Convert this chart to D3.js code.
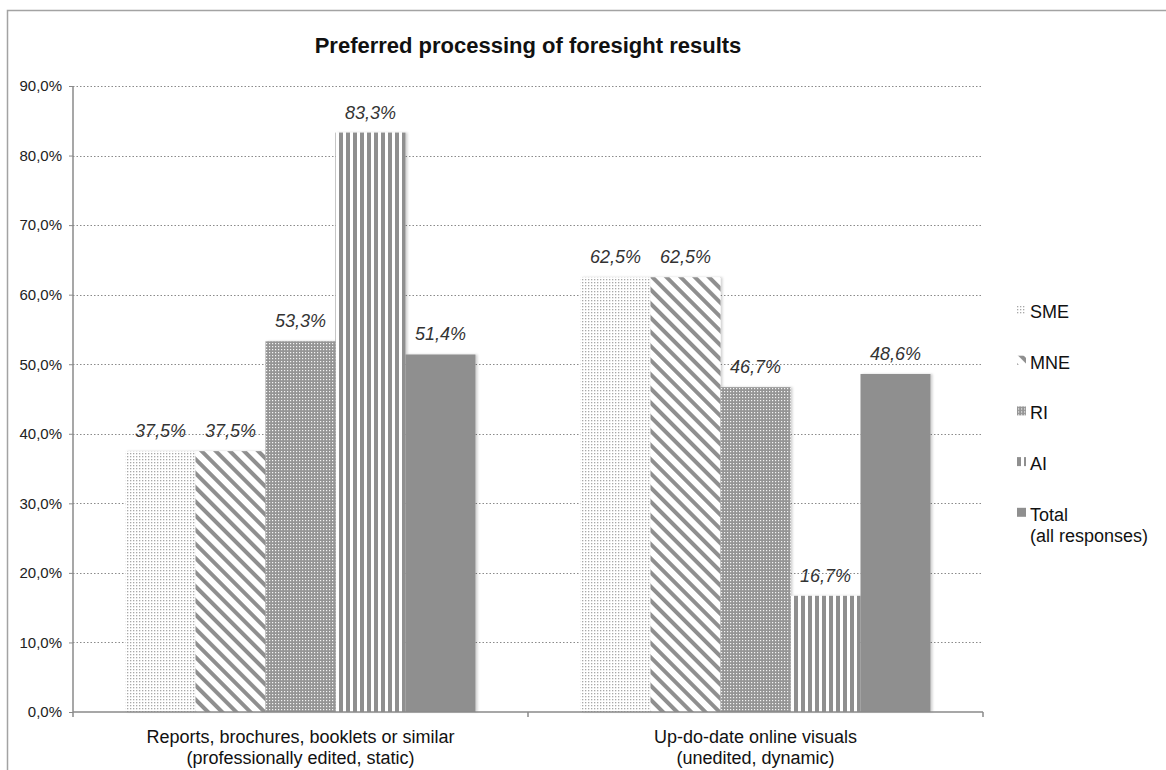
<!DOCTYPE html>
<html>
<head>
<meta charset="utf-8">
<script src="https://cdn.jsdelivr.net/npm/d3@7/dist/d3.min.js"></script>
<style>
  html, body { margin: 0; padding: 0; background: #fff; }
  svg { display: block; font-family: "Liberation Sans", Arial, Helvetica, sans-serif; }
</style>
</head>
<body>
<svg id="chart" width="1166" height="770"></svg>
<script>
// Survey shares per respondent group (percent)
const categories = [
  ["Reports, brochures, booklets or similar", "(professionally edited, static)"],
  ["Up-do-date online visuals", "(unedited, dynamic)"]
];
const seriesNames = ["SME", "MNE", "RI", "AI", "Total"];
const legendLabels = [["SME"], ["MNE"], ["RI"], ["AI"], ["Total", "(all responses)"]];
const valuesSME   = [37.5, 62.5];
const valuesMNE   = [37.5, 62.5];
const valuesRI    = [53.3, 46.7];
const valuesAI    = [83.3, 16.7];
const valuesTotal = [51.4, 48.6];
const yTicks = [0, 10, 20, 30, 40, 50, 60, 70, 80, 90];
const title = "Preferred processing of foresight results";

const seriesValues = [valuesSME, valuesMNE, valuesRI, valuesAI, valuesTotal];
const fmt = v => v.toFixed(1).replace(".", ",") + "%";

const svg = d3.select("#chart");
const defs = svg.append("defs");
const grey = "#8f8f8f";

// --- fill patterns ---
// SME: fine light dots
const pSME = defs.append("pattern").attr("id", "p-SME")
  .attr("patternUnits", "userSpaceOnUse").attr("width", 3).attr("height", 3);
pSME.append("rect").attr("width", 3).attr("height", 3).attr("fill", "#fff");
pSME.append("rect").attr("x", 0).attr("y", 0).attr("width", 1.3).attr("height", 1.3).attr("fill", "#a8a8a8");

// MNE: diagonal stripes
const pMNE = defs.append("pattern").attr("id", "p-MNE")
  .attr("patternUnits", "userSpaceOnUse").attr("width", 10).attr("height", 10)
  .attr("patternTransform", "rotate(-45)");
pMNE.append("rect").attr("width", 10).attr("height", 10).attr("fill", "#fff");
pMNE.append("rect").attr("x", 0).attr("width", 4).attr("height", 10).attr("fill", grey);

// RI: grey with small white dots
const pRI = defs.append("pattern").attr("id", "p-RI")
  .attr("patternUnits", "userSpaceOnUse").attr("width", 3).attr("height", 3);
pRI.append("rect").attr("width", 3).attr("height", 3).attr("fill", "#959595");
pRI.append("rect").attr("x", 1).attr("y", 1).attr("width", 1.2).attr("height", 1.2).attr("fill", "#f4f4f4");

// AI: vertical stripes
const pAI = defs.append("pattern").attr("id", "p-AI")
  .attr("patternUnits", "userSpaceOnUse").attr("width", 7).attr("height", 10);
pAI.append("rect").attr("width", 7).attr("height", 10).attr("fill", "#fff");
pAI.append("rect").attr("x", 0).attr("width", 4).attr("height", 10).attr("fill", grey);

const fills = { SME: "url(#p-SME)", MNE: "url(#p-MNE)", RI: "url(#p-RI)", AI: "url(#p-AI)", Total: grey };

// soft shadow to the right of each bar
const shadow = defs.append("filter").attr("id", "barShadow")
  .attr("x", "-10%").attr("y", "-10%").attr("width", "130%").attr("height", "120%");
shadow.append("feDropShadow").attr("dx", 2).attr("dy", 0).attr("stdDeviation", 1)
  .attr("flood-color", "#000").attr("flood-opacity", 0.18);

// --- outer frame ---
svg.append("rect").attr("x", 7.5).attr("y", 10.5).attr("width", 1180).attr("height", 800)
  .attr("fill", "none").attr("stroke", "#a3a3a3").attr("stroke-width", 1.5);

// --- scales ---
const plotLeft = 73, plotRight = 983, plotTop = 86, plotBottom = 712;
const catKeys = categories.map((c, i) => i);
const x0 = d3.scaleBand().domain(catKeys).range([plotLeft, plotRight]).padding(0);
const groupPad = x0.bandwidth() * 0.1154;
const x1 = d3.scaleBand().domain(seriesNames).range([groupPad, x0.bandwidth() - groupPad]).padding(0);
const y = d3.scaleLinear().domain([0, 90]).range([plotBottom, plotTop]);

// --- title ---
svg.append("text").attr("x", (plotLeft + plotRight) / 2).attr("y", 53)
  .attr("text-anchor", "middle").attr("font-size", 22).attr("font-weight", "bold")
  .attr("fill", "#111").text(title);

// --- gridlines ---
svg.append("g").selectAll("line").data(yTicks.filter(t => t > 0)).join("line")
  .attr("x1", plotLeft).attr("x2", plotRight)
  .attr("y1", d => Math.round(y(d)) + 0.5).attr("y2", d => Math.round(y(d)) + 0.5)
  .attr("stroke", "#8a8a8a").attr("stroke-width", 1).attr("stroke-dasharray", "1.5,2");

// --- bars ---
const groups = svg.append("g").selectAll("g").data(catKeys).join("g")
  .attr("transform", d => `translate(${x0(d)},0)`);

groups.selectAll("rect").data(ci => seriesNames.map((s, si) => ({ s, v: seriesValues[si][ci] })))
  .join("rect")
  .attr("x", d => x1(d.s)).attr("width", x1.bandwidth())
  .attr("y", d => y(d.v)).attr("height", d => plotBottom - y(d.v))
  .attr("fill", d => fills[d.s]).attr("filter", "url(#barShadow)");

groups.selectAll("text").data(ci => seriesNames.map((s, si) => ({ s, v: seriesValues[si][ci] })))
  .join("text")
  .attr("x", d => x1(d.s) + x1.bandwidth() / 2).attr("y", d => y(d.v) - 14)
  .attr("text-anchor", "middle").attr("font-size", 18).attr("font-style", "italic")
  .attr("fill", "#333").text(d => fmt(d.v));

// --- axes ---
const yAxis = svg.append("g").attr("transform", `translate(${plotLeft},0)`)
  .call(d3.axisLeft(y).tickValues(yTicks).tickSize(4).tickPadding(7).tickFormat(d => fmt(d)));
yAxis.select(".domain").attr("stroke", "#8a8a8a").attr("stroke-width", 1.5).attr("d", `M0,${plotTop}V${plotBottom}`);
yAxis.selectAll(".tick line").attr("stroke", "#8a8a8a");
yAxis.selectAll(".tick text").attr("font-size", 15).attr("fill", "#222")
  .attr("font-family", "Liberation Sans, Arial, sans-serif");

const xAxisG = svg.append("g").attr("transform", `translate(0,${plotBottom})`);
xAxisG.append("line").attr("x1", plotLeft).attr("x2", plotRight).attr("y1", 0).attr("y2", 0)
  .attr("stroke", "#8a8a8a").attr("stroke-width", 1.5);
xAxisG.selectAll("line.tk").data([...catKeys.map(k => x0(k)), plotRight]).join("line")
  .attr("class", "tk").attr("x1", d => d).attr("x2", d => d).attr("y1", 0).attr("y2", 5)
  .attr("stroke", "#8a8a8a").attr("stroke-width", 1.5);
xAxisG.selectAll("text").data(catKeys).join("text")
  .attr("x", d => x0(d) + x0.bandwidth() / 2).attr("y", 31)
  .attr("text-anchor", "middle").attr("font-size", 18).attr("fill", "#111")
  .each(function (d) {
    const t = d3.select(this);
    categories[d].forEach((line, i) => {
      t.append("tspan").attr("x", x0(d) + x0.bandwidth() / 2).attr("dy", i === 0 ? 0 : 21).text(line);
    });
  });

// --- legend ---
const legend = svg.append("g").attr("transform", "translate(1017,318)");
const li = legend.selectAll("g").data(seriesNames).join("g")
  .attr("transform", (d, i) => `translate(0,${i * 50.7})`);
li.append("rect").attr("x", 0).attr("y", -13).attr("width", 9).attr("height", 9)
  .attr("fill", d => fills[d]);
li.append("text").attr("x", 13).attr("y", 0).attr("font-size", 18).attr("fill", "#111")
  .each(function (d, i) {
    const t = d3.select(this);
    legendLabels[i].forEach((line, j) => {
      t.append("tspan").attr("x", 13).attr("dy", j === 0 ? 0 : 21).text(line);
    });
  });
</script>
</body>
</html>
